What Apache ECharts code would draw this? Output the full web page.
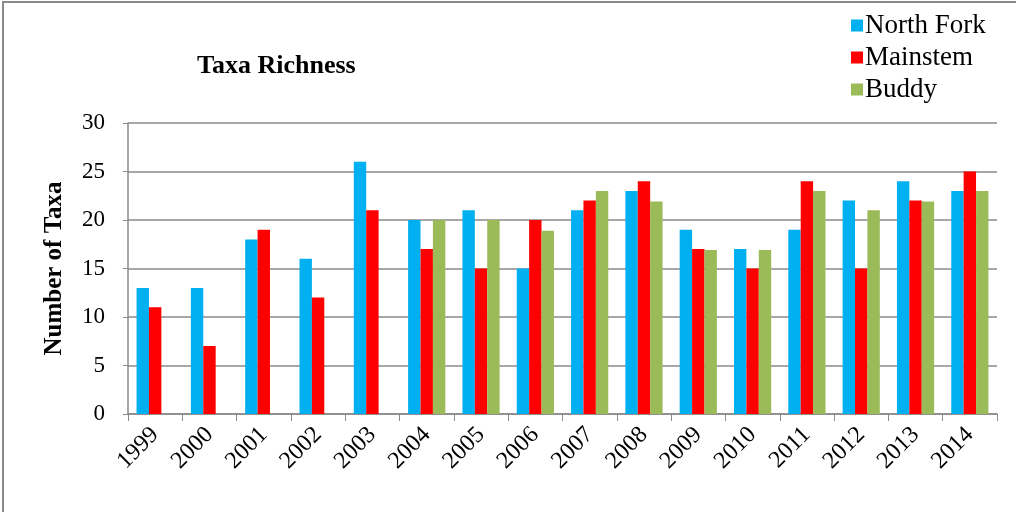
<!DOCTYPE html>
<html>
<head>
<meta charset="utf-8">
<script src="https://cdn.jsdelivr.net/npm/echarts@6/dist/echarts.min.js"></script>
<style>
  html, body { margin: 0; padding: 0; background: #fff; }
  #main { width: 1016px; height: 512px; }
</style>
</head>
<body>
<div id="main"></div>
<script>
var years = ['1999', '2000', '2001', '2002', '2003', '2004', '2005', '2006',
             '2007', '2008', '2009', '2010', '2011', '2012', '2013', '2014'];
var northFork = [13, 13, 18, 16, 26, 20, 21, 15, 21, 23, 19, 17, 19, 22, 24, 23];
var mainstem = [11, 7, 19, 12, 21, 17, 15, 20, 22, 24, 17, 15, 24, 15, 22, 25];
var buddy = [null, null, null, null, null, 20, 20, 18.9, 23, 21.9, 16.9, 16.9, 23, 21, 21.9, 23];
var yTicks = [0, 5, 10, 15, 20, 25, 30];

var serif = '"Liberation Serif", "DejaVu Serif", serif';
var myChart = echarts.init(document.getElementById('main'));

myChart.setOption({
    backgroundColor: '#fff',
    animation: false,
    graphic: [{
        type: 'rect',
        shape: { x: 3, y: 2, width: 1030, height: 530 },
        style: { fill: 'none', stroke: '#8a8a8a', lineWidth: 2 },
        silent: true
    }],
    title: {
        text: 'Taxa Richness',
        left: 192,
        top: 48,
        textStyle: { fontFamily: serif, fontSize: 26, fontWeight: 'bold', color: '#000' }
    },
    legend: {
        orient: 'vertical',
        left: 846,
        top: 7,
        itemWidth: 12,
        itemHeight: 12,
        itemGap: 5,
        icon: 'rect',
        textStyle: { fontFamily: serif, fontSize: 27, color: '#000', padding: [0, 0, 0, -3] },
        data: ['North Fork', 'Mainstem', 'Buddy']
    },
    grid: { left: 128, right: 19, top: 123, bottom: 98 },
    xAxis: {
        type: 'category',
        data: years,
        axisLine: { lineStyle: { color: '#8a8a8a', width: 1.5 } },
        axisTick: { show: true, length: 7, lineStyle: { color: '#8a8a8a' } },
        axisLabel: { rotate: 45, margin: 17, fontFamily: serif, fontSize: 24, color: '#000' }
    },
    yAxis: {
        type: 'value',
        min: 0,
        max: 30,
        interval: 5,
        name: 'Number of Taxa',
        nameLocation: 'middle',
        nameGap: 61,
        nameTextStyle: { fontFamily: serif, fontSize: 25, fontWeight: 'bold', color: '#000' },
        axisLine: { show: true, lineStyle: { color: '#8a8a8a', width: 1.5 } },
        axisTick: { show: true, length: 5, lineStyle: { color: '#8a8a8a' } },
        axisLabel: {
            margin: 23, fontFamily: serif, fontSize: 23, color: '#000',
            formatter: function (v) { return yTicks.indexOf(v) >= 0 ? String(v) : ''; }
        },
        splitLine: { lineStyle: { color: '#8a8a8a', width: 1.5 } }
    },
    series: [
        { name: 'North Fork', type: 'bar', data: northFork, barWidth: 12.4, barGap: '0%', itemStyle: { color: '#00B0F0' } },
        { name: 'Mainstem', type: 'bar', data: mainstem, barWidth: 12.4, barGap: '0%', itemStyle: { color: '#FF0000' } },
        { name: 'Buddy', type: 'bar', data: buddy, barWidth: 12.4, barGap: '0%', itemStyle: { color: '#9BBB59' } }
    ]
});
</script>
</body>
</html>
